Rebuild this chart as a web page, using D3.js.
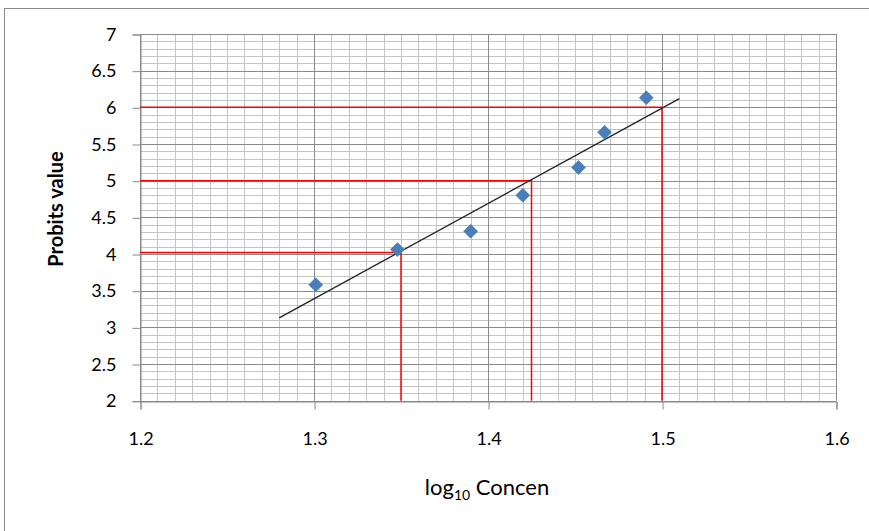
<!DOCTYPE html>
<html><head><meta charset="utf-8">
<script src="https://cdn.jsdelivr.net/npm/d3@7"></script>
<style>body{margin:0;background:#fff}svg{display:block}text{font-family:Lato,"Open Sans",sans-serif;fill:#000}</style>
</head><body><svg id="c" width="869" height="531"></svg>
<script>
const logConc = [1.301, 1.348, 1.390, 1.420, 1.452, 1.467, 1.491];
const probits = [3.58, 4.06, 4.31, 4.80, 5.18, 5.66, 6.13];
const refX = [1.35, 1.425, 1.50];
const refY = [4.02, 5.00, 6.00];
const trendRange = [1.28, 1.51];
const xTicks = [1.2, 1.3, 1.4, 1.5, 1.6];
const yTicks = [2, 2.5, 3, 3.5, 4, 4.5, 5, 5.5, 6, 6.5, 7];

const svg = d3.select("#c");
const x = d3.scaleLinear().domain([1.2, 1.6]).range([140, 836]);
const y = d3.scaleLinear().domain([2, 7]).range([400.7, 34]);

svg.append("rect").attr("x", 4.5).attr("y", 8.5).attr("width", 900).attr("height", 600)
  .attr("fill", "#fff").attr("stroke", "#8c8c8c");

const g = svg.append("g");
const xMinor = d3.range(0, 41).map(i => 1.2 + i * 0.01);
const yMinor = d3.range(0, 51).map(i => 2 + i * 0.1);
g.selectAll(".vx").data(xMinor).join("line")
  .attr("x1", d => Math.round(x(d)) + 0.5).attr("x2", d => Math.round(x(d)) + 0.5)
  .attr("y1", y(7)).attr("y2", y(2)).attr("stroke", "#c4c4c4").attr("stroke-width", 1);
g.selectAll(".hy").data(yMinor).join("line")
  .attr("y1", d => Math.round(y(d)) + 0.5).attr("y2", d => Math.round(y(d)) + 0.5)
  .attr("x1", x(1.2)).attr("x2", x(1.6)).attr("stroke", "#c4c4c4").attr("stroke-width", 1);
g.selectAll(".VX").data(xTicks).join("line")
  .attr("x1", d => Math.round(x(d)) + 0.5).attr("x2", d => Math.round(x(d)) + 0.5)
  .attr("y1", y(7)).attr("y2", y(2)).attr("stroke", "#8a8a8a");
g.selectAll(".HY").data(yTicks).join("line")
  .attr("y1", d => Math.round(y(d)) + 0.5).attr("y2", d => Math.round(y(d)) + 0.5)
  .attr("x1", x(1.2)).attr("x2", x(1.6)).attr("stroke", "#8a8a8a");

const xAxis = d3.axisBottom(x).tickValues(xTicks).tickFormat(d3.format(".1f")).tickSize(8).tickPadding(23);
const yAxis = d3.axisLeft(y).tickValues(yTicks).tickFormat(d => d3.format("")(d)).tickSize(8).tickPadding(16);
const gx = svg.append("g").attr("transform", `translate(0.5,${Math.round(y(2)) + 0.5})`).call(xAxis);
const gy = svg.append("g").attr("transform", `translate(${Math.round(x(1.2)) + 0.5},0.5)`).call(yAxis);
[gx, gy].forEach(a => {
  a.select(".domain").attr("stroke", "#8a8a8a");
  a.selectAll(".tick line").attr("stroke", "#8a8a8a");
  a.selectAll("text").style("font-size", "18px").style("font-family", "Lato,'Open Sans',sans-serif").attr("fill", "#111");
});

const refs = refX.map((v, i) => ({x: v, y: refY[i]}));
const rg = svg.append("g").attr("stroke", "#ff0000").attr("stroke-width", 1.5).attr("fill", "none");
rg.selectAll("path").data(refs).join("path")
  .attr("d", d => `M${x(1.2)},${y(d.y)}H${x(d.x)}V${y(2)}`);

const mx = d3.mean(logConc), my = d3.mean(probits);
const sxy = d3.sum(logConc, (v, i) => (v - mx) * (probits[i] - my));
const sxx = d3.sum(logConc, v => (v - mx) ** 2);
const slope = sxy / sxx, icpt = my - slope * mx;
svg.append("line")
  .attr("x1", x(trendRange[0])).attr("y1", y(icpt + slope * trendRange[0]))
  .attr("x2", x(trendRange[1])).attr("y2", y(icpt + slope * trendRange[1]))
  .attr("stroke", "#222").attr("stroke-width", 1.3);

const pts = logConc.map((v, i) => ({x: v, y: probits[i]}));
svg.selectAll(".pt").data(pts).join("path")
  .attr("transform", d => `translate(${x(d.x)},${y(d.y)})`)
  .attr("d", "M0,-7L7,0L0,7L-7,0Z").attr("fill", "#4a7ebb").attr("stroke", "#4677b5").attr("stroke-width", 0.6);

const xt = svg.append("text").attr("x", 487).attr("y", 495).attr("text-anchor", "middle").style("font-size", "22px");
xt.append("tspan").text("log");
xt.append("tspan").attr("dy", 5).style("font-size", "14px").text("10");
xt.append("tspan").attr("dy", -5).text(" Concen");
svg.append("text").attr("transform", "translate(63,209) rotate(-90)").attr("text-anchor", "middle")
  .style("font-size", "20px").style("font-weight", "bold").text("Probits value");
</script></body></html>
